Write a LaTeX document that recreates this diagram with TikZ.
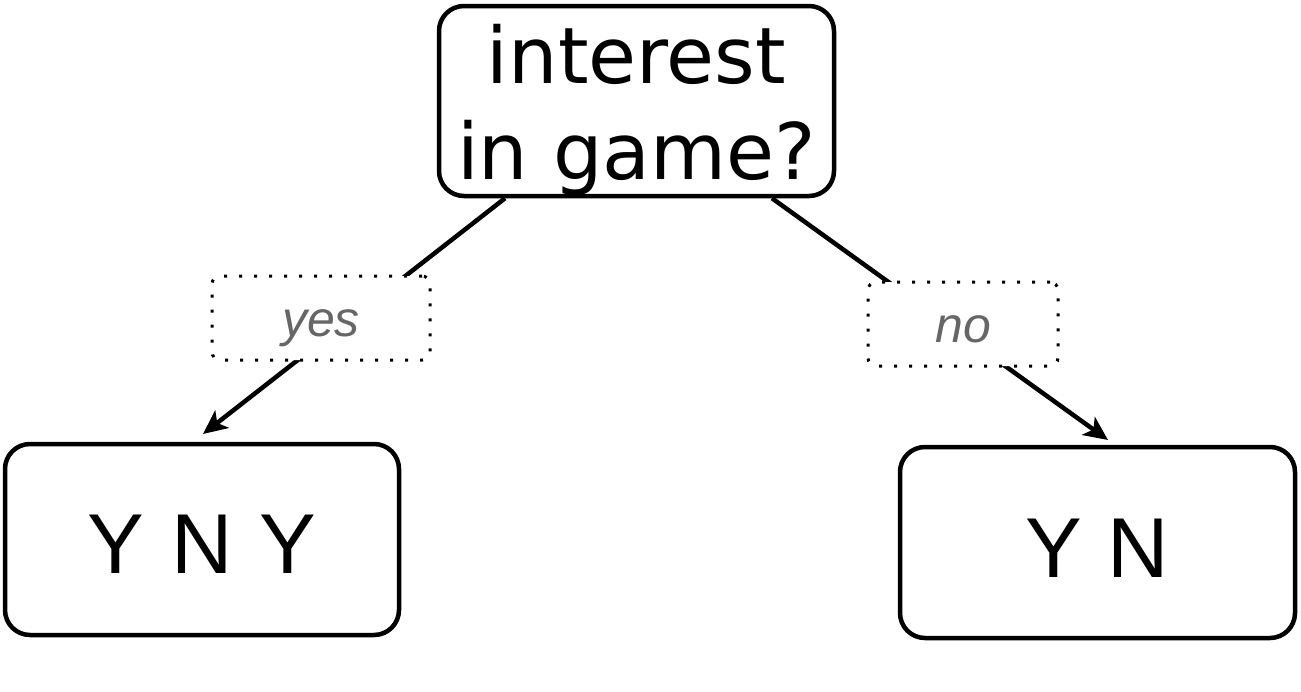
\documentclass[tikz,border=0pt]{standalone}
\usepackage{fontspec}
\setmainfont{Liberation Sans}
\newfontfamily\djv{DejaVu Sans}
\usetikzlibrary{arrows.meta,calc}
\definecolor{labelgray}{HTML}{666666}
\tikzset{
  box/.style={draw=black, line width=4.5pt, rounded corners=25pt, fill=white, inner sep=0pt, align=center},
  lbl/.style={draw=black, line width=3pt, dash pattern=on 3pt off 12pt, rounded corners=8pt, fill=white, inner sep=0pt, text=labelgray, font=\fontsize{50}{60}\selectfont\itshape, text depth=0pt},
  conn/.style={line width=4.5pt, -{Stealth[length=24pt,width=22pt,inset=6pt]}},
}
\begin{document}
\begin{tikzpicture}[x=1pt,y=-1pt]
\useasboundingbox (0,0) rectangle (1301,691);
\node[box, minimum width=395pt, minimum height=190pt] (top) at (636.5,101) {};
\node[font=\djv\fontsize{78}{96}\selectfont, align=center, inner sep=0pt] (toptext) at ($(top.center)+(0,9)$) {interest\\in game?};
\node[box, minimum width=394pt, minimum height=191pt, font=\fontsize{85}{100}\selectfont, text height=67pt, text depth=0pt] (left) at (202,539.5) {Y\hspace{0.32em}N\hspace{0.32em}Y};
\node[box, minimum width=395pt, minimum height=191pt, font=\fontsize{85}{100}\selectfont, text height=69pt, text depth=0pt] (right) at (1097.5,542.5) {Y\hspace{0.3em}N};
\coordinate (ls) at ($(top.south)+(-131.5,0)$);
\coordinate (le) at (203,434);
\coordinate (rs) at ($(top.south)+(135.5,0)$);
\coordinate (re) at (1108,440);
\draw[conn] (ls) -- (le);
\draw[conn] (rs) -- (re);
\node[lbl, minimum width=218pt, minimum height=84pt, text height=36pt] (yes) at (321,318) {yes};
\node[lbl, minimum width=190pt, minimum height=84pt, text height=36pt] (no) at (963,324) {no};
\end{tikzpicture}
\end{document}
